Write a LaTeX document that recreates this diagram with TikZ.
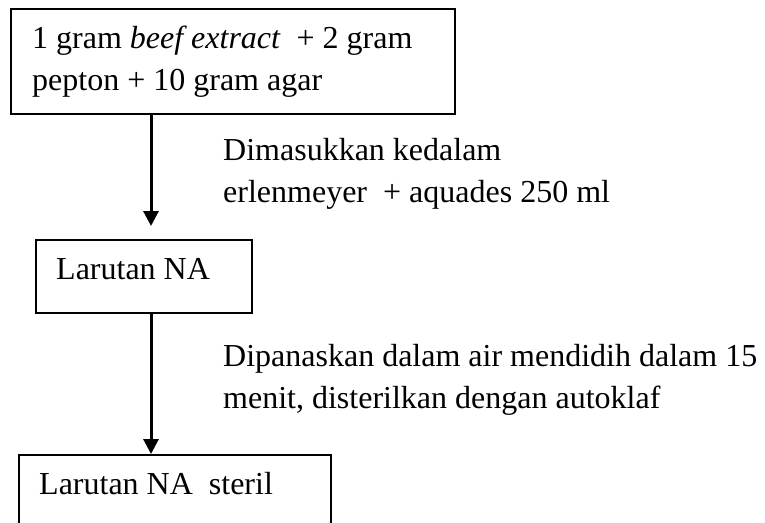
\documentclass[tikz,border=0pt]{standalone}
\usepackage{fontspec}
\setmainfont{Liberation Serif}
\usetikzlibrary{arrows.meta}
\begin{document}
\begin{tikzpicture}[x=1pt,y=-1pt,
  every node/.style={font=\fontsize{32}{42}\selectfont},
  boxnode/.style={draw=black,line width=2pt,rectangle,inner sep=0pt,anchor=north west},
  txt/.style={anchor=base west,inner sep=0pt},
  flowarrow/.style={line width=3pt,-{Triangle[width=15pt,length=15pt]}}]
\useasboundingbox (0,0) rectangle (765,522);
\clip (0,0) rectangle (765,522);
\fill[white] (0,0) rectangle (765,522);
% boxes
\node[boxnode,minimum width=444pt,minimum height=105pt] (box1) at (10,8) {};
\node[boxnode,minimum width=216pt,minimum height=73pt] (box2) at (35,239) {};
\node[boxnode,minimum width=312pt,minimum height=90pt] (box3) at (18,454) {};
% box texts
\node[txt] (t1a) at (32,48) {1 gram \textit{beef extract}\ \ + 2 gram};
\node[txt] (t1b) at (32,90) {pepton + 10 gram agar};
\node[txt] (t2) at (56,279) {Larutan NA};
\node[txt] (t3) at (39,494) {Larutan NA\ \ steril};
% labels
\node[txt] (l1a) at (223,160) {Dimasukkan kedalam};
\node[txt] (l1b) at (223,202) {erlenmeyer\ \ + aquades 250 ml};
\node[txt] (l2a) at (223,366) {Dipanaskan dalam air mendidih dalam 15};
\node[txt] (l2b) at (223,408) {menit, disterilkan dengan autoklaf};
% arrows
\coordinate (ax) at (151,0);
\draw[flowarrow,shorten >=13pt] (box1.south -| ax) -- (box2.north -| ax);
\draw[flowarrow] (box2.south -| ax) -- (box3.north -| ax);
\end{tikzpicture}
\end{document}
